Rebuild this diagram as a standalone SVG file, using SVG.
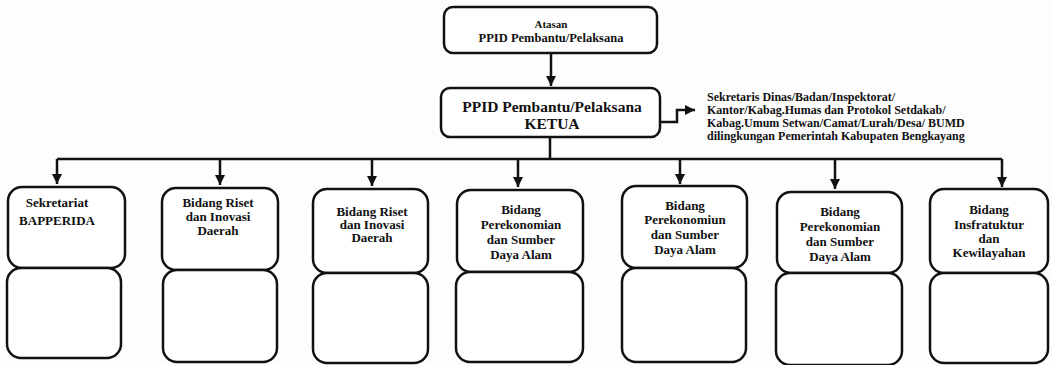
<svg xmlns="http://www.w3.org/2000/svg" width="1051" height="365" viewBox="0 0 1051 365">
<defs>
<marker id="ah" viewBox="0 0 10 10" refX="10" refY="5" markerWidth="10" markerHeight="10" markerUnits="userSpaceOnUse" orient="auto">
<path d="M0,0 L10,5 L0,10 z" fill="#111"/>
</marker>
<style>
.box{fill:#fff;stroke:#111;stroke-width:2.5}
.t{font-family:"Liberation Serif",serif;font-weight:bold;fill:#111;text-anchor:middle}
.s{font-size:13px}
.side{font-family:"Liberation Serif",serif;font-weight:bold;fill:#111;font-size:12px}
.c{fill:none;stroke:#111;stroke-width:2.5}
</style>
</defs>
<rect width="1051" height="365" fill="#fdfdfd"/>
<g id="connectors">
<path class="c" d="M551,53 V86" marker-end="url(#ah)"/>
<path class="c" d="M550,137 V159"/>
<path class="c" d="M57,159 H1002"/>
<path class="c" d="M57,159 V184" marker-end="url(#ah)"/>
<path class="c" d="M220,159 V185" marker-end="url(#ah)"/>
<path class="c" d="M372,159 V186" marker-end="url(#ah)"/>
<path class="c" d="M518,159 V187" marker-end="url(#ah)"/>
<path class="c" d="M680,159 V184" marker-end="url(#ah)"/>
<path class="c" d="M835,159 V189" marker-end="url(#ah)"/>
<path class="c" d="M1002,159 V187" marker-end="url(#ah)"/>
<path class="c" d="M660,122 H677 V110 H695" marker-end="url(#ah)"/>
</g>
<g id="atasan">
<rect class="box" x="444" y="7" width="213" height="46" rx="9"/>
<text class="t" x="551" y="28" font-size="11">Atasan</text>
<text class="t" x="551" y="42" font-size="12.5">PPID Pembantu/Pelaksana</text>
</g>
<g id="ketua">
<rect class="box" x="441" y="88" width="219" height="49" rx="9"/>
<text class="t" x="552" y="112" font-size="15.5">PPID Pembantu/Pelaksana</text>
<text class="t" x="552" y="129" font-size="15.5">KETUA</text>
</g>
<g id="side-note">
<text class="side" x="707" y="101">Sekretaris Dinas/Badan/Inspektorat/</text>
<text class="side" x="707" y="114">Kantor/Kabag.Humas dan Protokol Setdakab/</text>
<text class="side" x="707" y="127">Kabag.Umum Setwan/Camat/Lurah/Desa/ BUMD</text>
<text class="side" x="707" y="140">dilingkungan Pemerintah Kabupaten Bengkayang</text>
</g>
<g id="n1">
<rect class="box" x="8" y="187" width="117" height="81" rx="14"/>
<rect class="box" x="7" y="268" width="114" height="90" rx="14"/>
<text class="t s" x="57" y="207">Sekretariat</text>
<text class="t s" x="57" y="225">BAPPERIDA</text>
</g>
<g id="n2">
<rect class="box" x="162" y="188" width="116" height="82" rx="14"/>
<rect class="box" x="163" y="270" width="114" height="92" rx="14"/>
<text class="t s" x="218" y="207">Bidang Riset</text>
<text class="t s" x="218" y="221">dan Inovasi</text>
<text class="t s" x="218" y="235">Daerah</text>
</g>
<g id="n3">
<rect class="box" x="313" y="189" width="115" height="84" rx="14"/>
<rect class="box" x="313" y="273" width="115" height="90" rx="14"/>
<text class="t s" x="372" y="216">Bidang Riset</text>
<text class="t s" x="372" y="229">dan Inovasi</text>
<text class="t s" x="372" y="242">Daerah</text>
</g>
<g id="n4">
<rect class="box" x="457" y="190" width="126" height="82" rx="14"/>
<rect class="box" x="456" y="272" width="127" height="90" rx="14"/>
<text class="t s" x="521" y="214">Bidang</text>
<text class="t s" x="521" y="229">Perekonomian</text>
<text class="t s" x="521" y="244">dan Sumber</text>
<text class="t s" x="521" y="259">Daya Alam</text>
</g>
<g id="n5">
<rect class="box" x="622" y="186" width="125" height="82" rx="14"/>
<rect class="box" x="622" y="268" width="124" height="94" rx="14"/>
<text class="t s" x="685" y="210">Bidang</text>
<text class="t s" x="685" y="224">Perekonomiun</text>
<text class="t s" x="685" y="239">dan Sumber</text>
<text class="t s" x="685" y="254">Daya Alam</text>
</g>
<g id="n6">
<rect class="box" x="777" y="192" width="125" height="81" rx="14"/>
<rect class="box" x="776" y="273" width="126" height="92" rx="14"/>
<text class="t s" x="840" y="216">Bidang</text>
<text class="t s" x="840" y="231">Perekonomian</text>
<text class="t s" x="840" y="246">dan Sumber</text>
<text class="t s" x="840" y="261">Daya Alam</text>
</g>
<g id="n7">
<rect class="box" x="930" y="189" width="118" height="84" rx="14"/>
<rect class="box" x="930" y="273" width="118" height="90" rx="14"/>
<text class="t s" x="989" y="214">Bidang</text>
<text class="t s" x="989" y="229">Insfratuktur</text>
<text class="t s" x="989" y="243">dan</text>
<text class="t s" x="989" y="257">Kewilayahan</text>
</g>
</svg>
